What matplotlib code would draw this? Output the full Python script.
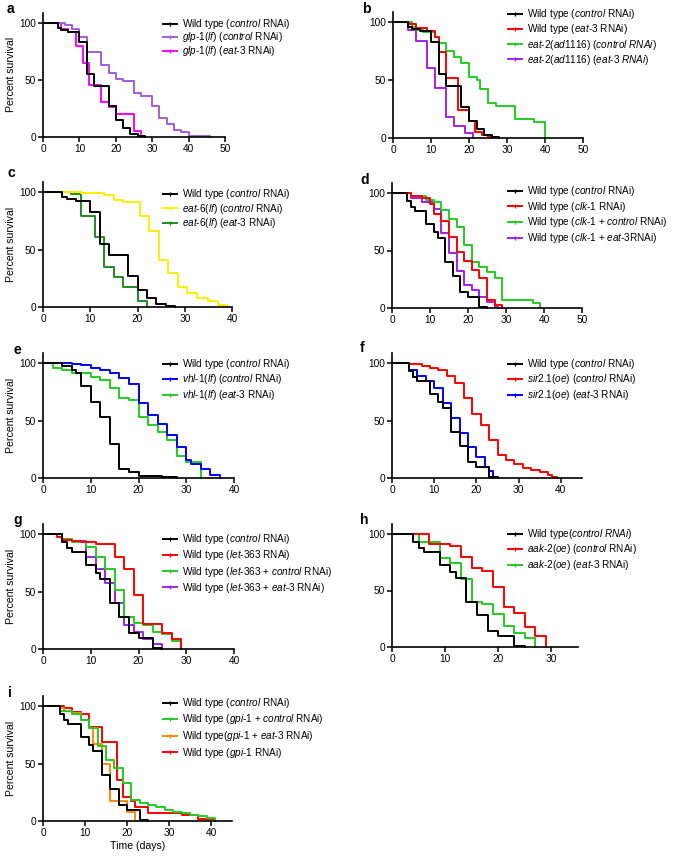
import re
import numpy as np
import matplotlib
matplotlib.use("Agg")
import matplotlib.pyplot as plt
from matplotlib.lines import Line2D

plt.rcParams['font.family'] = ['Liberation Sans', 'DejaVu Sans']
plt.rcParams['mathtext.fontset'] = 'custom'
plt.rcParams['mathtext.rm'] = 'Liberation Sans'
plt.rcParams['mathtext.it'] = 'Liberation Sans:italic'
plt.rcParams['mathtext.bf'] = 'Liberation Sans:bold'

# ---- survival data (day, percent alive) ----
wt1_t = [0, 4, 5, 7, 10, 12, 14, 18, 20, 22, 24, 26, 28]
wt1_s = [100, 96, 94, 92, 83, 55, 45, 27, 15, 8, 3, 1, 0]
wt2_t = [0, 4, 5, 6, 9, 11, 12, 14, 16, 18, 20, 23, 25]
wt2_s = [100, 93, 88, 84, 73, 66, 61, 40, 28, 14, 10, 1, 0]
wt3_t = [0, 4, 6, 7, 8, 10, 12, 14, 16, 18, 20, 25, 28]
wt3_s = [100, 97, 94, 91, 80, 66, 53, 30, 8, 5, 2, 1, 0]

glp1_ctrl_t = [0, 6, 8, 10, 12, 16, 18, 20, 22, 25, 27, 30, 32, 34, 36, 38, 40, 46]
glp1_ctrl_s = [100, 98, 95, 88, 75, 63, 56, 51, 49, 39, 36, 27, 17, 11, 6, 4, 1, 0]
glp1_eat3_t = [0, 5, 7, 9, 11, 12.5, 16, 18, 20, 25, 27]
glp1_eat3_s = [100, 95, 92, 80, 65, 46, 31, 26, 20, 5, 0]

wt_eat3_t = [0, 4, 6, 9, 11, 12, 14, 17, 20, 21.5, 23.5, 25, 26]
wt_eat3_s = [100, 98, 95, 92, 87, 74, 52, 24, 15, 5, 3, 1, 0]
eat2_ctrl_t = [0, 5, 6, 8, 11, 12, 14, 16, 18, 20, 22, 23, 25, 27, 32, 37, 40]
eat2_ctrl_s = [100, 96, 93, 91, 87, 82, 75, 70, 65, 53, 50, 42, 30, 28, 16, 14, 0]
eat2_eat3_t = [0, 4, 6, 9, 11, 14, 16, 19, 21]
eat2_eat3_s = [100, 93, 84, 60, 43, 18, 10, 4, 0]

eat6_ctrl_t = [0, 8, 11, 13, 15, 17, 20.5, 22.5, 24.5, 26.5, 28.5, 30.5, 32.5, 35, 37, 39]
eat6_ctrl_s = [100, 99.5, 99, 97, 93, 91, 79, 66, 41, 30, 17, 12, 8, 5, 2, 0]
eat6_eat3_t = [0, 6, 8, 11, 13, 15, 17, 20, 22]
eat6_eat3_s = [100, 98, 79, 61, 35, 26, 17, 5, 0]

clk1_t = [0, 5, 8, 10, 11, 13, 15, 17, 19, 21, 23, 25, 27, 29]
clk1_s = [100, 97, 96, 90, 82, 76, 62, 49, 41, 33, 26, 7, 3, 0]
clk1_ctrl_t = [0, 5, 9, 11, 13, 15, 17, 19, 21, 23, 25, 27, 29, 37, 39]
clk1_ctrl_s = [100, 97, 94, 92, 85, 77, 70, 55, 40, 36, 31, 26, 7, 4, 0]
clk1_eat3_t = [0, 5, 8, 11, 13, 15, 17, 19, 21, 23, 25, 27, 28]
clk1_eat3_s = [100, 96, 92, 86, 65, 48, 32, 20, 16, 10, 5, 1, 0]

vhl1_ctrl_t = [0, 6, 8, 10, 12, 14, 16, 18, 20, 22, 24, 26, 28, 30, 31, 33, 35, 37]
vhl1_ctrl_s = [100, 99, 98, 96, 94, 91, 87, 82, 65, 55, 47, 37, 27, 16, 12, 8, 3, 0]
vhl1_eat3_t = [0, 2, 4, 6, 10, 12, 14, 16, 18, 20, 22, 24, 26, 28, 30, 33]
vhl1_eat3_s = [100, 96, 94, 91, 88, 85, 78, 70, 68, 53, 46, 40, 33, 19, 14, 0]

sir21_ctrl_t = [0, 4, 7, 9, 11, 13, 15, 17, 19, 21, 23, 25, 27, 29, 31, 33, 35, 37, 38, 39]
sir21_ctrl_s = [100, 99, 97, 96, 94, 89, 83, 70, 56, 46, 33, 20, 16, 12, 9, 7, 5, 3, 1, 0]
sir21_eat3_t = [0, 4, 6, 8, 10, 12, 14, 16, 18, 20, 22, 23, 24]
sir21_eat3_s = [100, 94, 89, 84, 78, 65, 52, 39, 27, 18, 10, 6, 0]

let363_t = [0, 3, 4, 6, 8, 11, 15, 17, 19, 21, 25, 27, 29]
let363_s = [100, 97, 95, 94, 93, 91, 80, 70, 47, 22, 14, 9, 0]
let363_ctrl_t = [0, 4, 6, 9, 11, 13, 15, 17, 19, 21, 23, 25, 27, 29]
let363_ctrl_s = [100, 96, 93, 89, 80, 70, 51, 28, 23, 21, 15, 13, 7, 0]
let363_eat3_t = [0, 4, 6, 9, 11, 13, 15, 17, 19, 21, 23, 25]
let363_eat3_s = [100, 96, 94, 80, 70, 57, 40, 21, 15, 9, 4, 0]

aak2_ctrl_t = [0, 7, 11, 13, 15, 17, 19, 21, 23, 25, 27, 29]
aak2_ctrl_s = [100, 91, 89, 80, 70, 67, 53, 35, 30, 18, 10, 0]
aak2_eat3_t = [0, 5, 9, 11, 13, 15, 17, 19, 21, 23, 25, 27]
aak2_eat3_s = [100, 93, 79, 74, 60, 40, 38, 29, 19, 12, 8, 0]

gpi1_ctrl_t = [0, 4, 7, 9, 11, 13, 15, 17, 19, 21, 23, 25, 27, 29, 31, 33, 35, 37, 39, 41]
gpi1_ctrl_s = [100, 96, 93, 88, 81, 65, 53, 46, 33, 18, 16, 14, 12, 10, 8, 7, 5, 4, 3, 0]
gpi1_eat3_t = [0, 4, 5, 7, 9, 11, 12, 14, 16, 20, 22]
gpi1_eat3_s = [100, 98, 96, 94, 88, 81, 67, 50, 17, 8, 0]
gpi1_t = [0, 5, 7, 9, 11, 14, 17.5, 19, 21, 22, 25, 33, 37, 41]
gpi1_s = [100, 98, 95, 93, 82, 69, 36, 21, 17, 12, 7, 5, 2, 0]

# colours
BLK = "black"
PURP = "#A35CDC"
MAG = "#FF00FF"
RED = "#FF0000"
GRN = "#22CC22"
VIO = "#A020F0"
YEL = "#FFEE00"
DGRN = "#1E8C1E"
BLU = "#0000FF"
ORA = "#FF8800"

# panel: letter, series, xmax, xticks, pixel box (x0, x1, y_at_0, y_at_100),
# legend (handle x, first row y, labelspacing), ylabel?
panels = [
    ("a", [(wt1_t, wt1_s, BLK, "Wild type *(control* RNAi*)*"),
           (glp1_ctrl_t, glp1_ctrl_s, PURP, "*glp-1(lf) (control* RNAi*)*"),
           (glp1_eat3_t, glp1_eat3_s, MAG, "*glp-1(lf) (eat-3* RNAi*)*")],
     50, [0, 10, 20, 30, 40, 50], (43, 225, 137, 23), (163, 23, -0.05), True),
    ("b", [(wt1_t, wt1_s, BLK, "Wild type *(control* RNAi*)*"),
           (wt_eat3_t, wt_eat3_s, RED, "Wild type *(eat-3* RNAi*)*"),
           (eat2_ctrl_t, eat2_ctrl_s, GRN, "*eat-2(ad1116) (control RNAi)*"),
           (eat2_eat3_t, eat2_eat3_s, VIO, "*eat-2(ad1116) (eat-3 RNAi)*")],
     50, [0, 10, 20, 30, 40, 50], (393, 583, 138, 22), (508, 13, 0.13), False),
    ("c", [(wt1_t, wt1_s, BLK, "Wild type *(control* RNAi*)*"),
           (eat6_ctrl_t, eat6_ctrl_s, YEL, "*eat-6(lf) (control* RNAi*)*"),
           (eat6_eat3_t, eat6_eat3_s, DGRN, "*eat-6(lf) (eat-3* RNAi*)*")],
     40, [0, 10, 20, 30, 40], (43, 232, 307, 192), (163, 193, 0.06), True),
    ("d", [(wt2_t, wt2_s, BLK, "Wild type *(control* RNAi*)*"),
           (clk1_t, clk1_s, RED, "Wild type *(clk-1* RNAi*)*"),
           (clk1_ctrl_t, clk1_ctrl_s, GRN, "Wild type *(clk-1 + control* RNAi*)*"),
           (clk1_eat3_t, clk1_eat3_s, VIO, "Wild type *(clk-1 + eat-3*RNAi*)*")],
     50, [0, 10, 20, 30, 40, 50], (392, 582, 308, 193), (508, 190, 0.17), False),
    ("e", [(wt3_t, wt3_s, BLK, "Wild type *(control* RNAi*)*"),
           (vhl1_ctrl_t, vhl1_ctrl_s, BLU, "*vhl-1(lf) (control* RNAi*)*"),
           (vhl1_eat3_t, vhl1_eat3_s, GRN, "*vhl-1(lf) (eat-3* RNAi*)*")],
     40, [0, 10, 20, 30, 40], (43, 234, 478, 363), (163, 363, 0.15), True),
    ("f", [(wt2_t, wt2_s, BLK, "Wild type *(control* RNAi*)*"),
           (sir21_ctrl_t, sir21_ctrl_s, RED, "*sir2.1(oe) (control* RNAi*)*"),
           (sir21_eat3_t, sir21_eat3_s, BLU, "*sir2.1(oe) (eat-3* RNAi*)*")],
     45, [0, 10, 20, 30, 40], (392, 582, 478, 363), (508, 363, 0.15), False),
    ("g", [(wt2_t, wt2_s, BLK, "Wild type *(control* RNAi*)*"),
           (let363_t, let363_s, RED, "Wild type *(let-363* RNAi*)*"),
           (let363_ctrl_t, let363_ctrl_s, GRN, "Wild type *(let-363 + control* RNAi*)*"),
           (let363_eat3_t, let363_eat3_s, VIO, "Wild type *(let-363 + eat-3* RNAi*)*")],
     40, [0, 10, 20, 30, 40], (43, 234, 649, 534), (163, 538, 0.23), True),
    ("h", [(wt2_t, wt2_s, BLK, "Wild type*(control RNAi)*"),
           (aak2_ctrl_t, aak2_ctrl_s, RED, "*aak-2(oe) (control* RNAi*)*"),
           (aak2_eat3_t, aak2_eat3_s, GRN, "*aak-2(oe) (eat-3* RNAi*)*")],
     35, [0, 10, 20, 30], (392, 578, 647, 534), (508, 533, 0.15), False),
    ("i", [(wt2_t, wt2_s, BLK, "Wild type *(control* RNAi*)*"),
           (gpi1_ctrl_t, gpi1_ctrl_s, GRN, "Wild type *(gpi-1 + control* RNAi*)*"),
           (gpi1_eat3_t, gpi1_eat3_s, ORA, "Wild type*(gpi-1 + eat-3* RNAi*)*"),
           (gpi1_t, gpi1_s, RED, "Wild type *(gpi-1* RNAi*)*")],
     45, [0, 10, 20, 30, 40], (43, 232, 821, 706), (163, 702, 0.25), True),
]

# letter positions (px)
letter_pos = {"a": (7, 9), "b": (362, 9), "c": (8, 173), "d": (360, 180),
              "e": (13, 350), "f": (360, 348), "g": (13, 520), "h": (360, 520),
              "i": (8, 693)}


def lab(s):
    """*...* marks italic parts; hyphens and ' + ' stay upright text"""
    parts = s.split("*")
    out = ""
    for k, p in enumerate(parts):
        if k % 2 == 0:
            out += p
            continue
        for tok in re.split(r"(-| \+ )", p):
            if tok in ("-", " + "):
                out += tok
            elif tok:
                out += r"$\mathit{" + tok.replace(" ", r"\ ") + "}$"
    return out


W, H = 675., 857.
YTOP = 109.
fig = plt.figure(figsize=(6.75, 8.57), dpi=100)

for letter, series, xmax, xticks, box, leg, ylab in panels:
    x0, x1, y0, y100 = box
    hpx = (y0 - y100) * YTOP / 100.
    ax = fig.add_axes([x0 / W, 1 - y0 / H, (x1 - x0) / W, hpx / H])

    # draw later series first so the wild type sits on top
    for t, s, c, _ in series[::-1]:
        ax.step(t, s, where="post", color=c, lw=1.4, clip_on=False)

    ax.set_xlim(0, xmax)
    ax.set_ylim(0, YTOP)
    ax.set_xticks(xticks)
    ax.set_yticks([0, 50, 100])
    for sp in ["top", "right"]:
        ax.spines[sp].set_visible(False)
    for sp in ["left", "bottom"]:
        ax.spines[sp].set_linewidth(1.2)
    ax.tick_params(direction="out", length=3.5, width=1.1, labelsize=7.3, pad=1.5)
    if ylab:
        ax.set_ylabel("Percent survival", fontsize=7.6, labelpad=2)
    if letter == "i":
        ax.set_xlabel("Time (days)", fontsize=7.6, labelpad=2)

    handles = [Line2D([0], [0], color=c, lw=1.4, marker="|", ms=3, mew=1)
               for _, _, c, _ in series]
    labels = [lab(l) for _, _, _, l in series]
    hx, hy, lsp = leg
    ax.legend(handles, labels, loc="upper left",
              bbox_to_anchor=(hx / W, 1 - (hy - 6) / H),
              bbox_transform=fig.transFigure, frameon=False, fontsize=7.2,
              borderpad=0, borderaxespad=0, handlelength=1.4,
              handletextpad=0.5, labelspacing=lsp, numpoints=1)

    lx, ly = letter_pos[letter]
    fig.text(lx / W, 1 - ly / H, letter, fontsize=10, fontweight="bold",
             ha="left", va="center")

fig.savefig("out.png", dpi=100)
